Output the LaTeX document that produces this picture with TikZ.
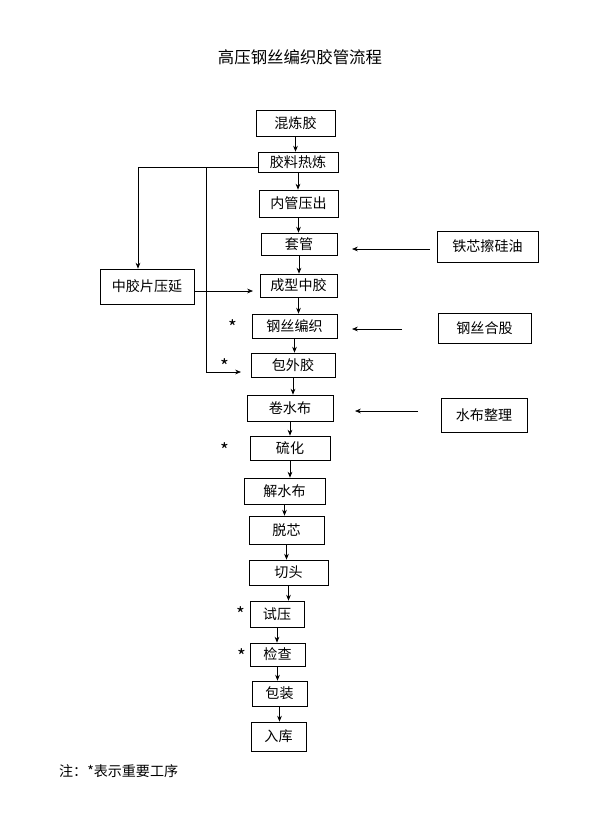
\documentclass[tikz,border=0pt]{standalone}
\usepackage{fontspec}
\setmainfont{Noto Sans CJK SC}
\usetikzlibrary{arrows.meta}

\begin{document}
\begin{tikzpicture}[x=0.03cm, y=-0.03cm,
  every node/.style={font=\fontsize{12}{14}\selectfont},
  box/.style={draw, line width=0.6pt, inner sep=0pt},
  flow/.style={draw, line width=0.6pt, -{Stealth[length=5pt,width=4pt]}},
  keymark/.style={font=\fontsize{16}{16}\selectfont}]
  \useasboundingbox (0,0) rectangle (600,830);

  % title
  \node (title) at (300,57) {\fontsize{14}{16}\selectfont 高压钢丝编织胶管流程};

  % main line
  \node[box, minimum width=2.37cm, minimum height=0.78cm] (hunlian) at (295.5,123) {混炼胶};
  \node[box, minimum width=2.4cm, minimum height=0.6cm] (relian) at (298,162) {胶料热炼};
  \node[box, minimum width=2.37cm, minimum height=0.81cm] (neiguan) at (298.5,203.5) {内管压出};
  \node[box, minimum width=2.28cm, minimum height=0.66cm] (taoguan) at (299,244) {套管};
  \node[box, minimum width=2.31cm, minimum height=0.69cm] (zhongjiao) at (298.5,285.5) {成型中胶};
  \node[box, minimum width=2.55cm, minimum height=0.72cm] (bianzhi) at (294.5,326) {钢丝编织};
  \node[box, minimum width=2.52cm, minimum height=0.72cm] (waijiao) at (293,365) {包外胶};
  \node[box, minimum width=2.58cm, minimum height=0.78cm] (juanshui) at (290,408) {卷水布};
  \node[box, minimum width=2.4cm, minimum height=0.72cm] (liuhua) at (290,448) {硫化};
  \node[box, minimum width=2.43cm, minimum height=0.78cm] (jieshui) at (284.5,491) {解水布};
  \node[box, minimum width=2.25cm, minimum height=0.84cm] (tuoxin) at (286.5,530) {脱芯};
  \node[box, minimum width=2.37cm, minimum height=0.75cm] (qietou) at (288.5,572.5) {切头};
  \node[box, minimum width=1.62cm, minimum height=0.78cm] (shiya) at (277,614) {试压};
  \node[box, minimum width=1.65cm, minimum height=0.69cm] (jiancha) at (277.5,654.5) {检查};
  \node[box, minimum width=1.65cm, minimum height=0.75cm] (baozhuang) at (279.5,693.5) {包装};
  \node[box, minimum width=1.65cm, minimum height=0.87cm] (ruku) at (278.5,736.5) {入库};

  % side boxes
  \node[box, minimum width=2.82cm, minimum height=1.05cm] (yayan) at (147,286.5) {中胶片压延};
  \node[box, minimum width=3.03cm, minimum height=0.93cm] (guiyou) at (487.5,246.5) {铁芯擦硅油};
  \node[box, minimum width=2.79cm, minimum height=0.9cm] (hegu) at (484.5,328) {钢丝合股};
  \node[box, minimum width=2.58cm, minimum height=1.02cm] (zhengli) at (484,415) {水布整理};

  % down arrows
  \foreach \a/\b in {hunlian/relian, relian/neiguan, neiguan/taoguan, taoguan/zhongjiao,
    zhongjiao/bianzhi, bianzhi/waijiao, waijiao/juanshui, juanshui/liuhua, liuhua/jieshui,
    jieshui/tuoxin, tuoxin/qietou, qietou/shiya, shiya/jiancha, jiancha/baozhuang, baozhuang/ruku}
    \draw[flow] (\a.south) -- (\a.south |- \b.north);

  % branches from relian
  \coordinate (split) at (206,167);
  \coordinate (corner) at (138,167);
  \coordinate (yayanin) at (253,291);
  \coordinate (waijiaoin) at (241,372);
  \draw[flow] (relian.west |- split) -- (corner) -- (corner |- yayan.north);
  \draw[flow] (split) -- (split |- waijiaoin) -- (waijiaoin);
  \draw[flow] (yayan.east |- yayanin) -- (yayanin);

  % side inputs
  \coordinate (guiyouend) at (352,249);
  \coordinate (guiyouout) at (430,249);
  \coordinate (heguend) at (352,329);
  \coordinate (heguout) at (402,329);
  \coordinate (zhengliend) at (355,411);
  \coordinate (zhengliout) at (418,411);
  \draw[flow] (guiyouout) -- (guiyouend);
  \draw[flow] (heguout) -- (heguend);
  \draw[flow] (zhengliout) -- (zhengliend);

  % key steps
  \node[keymark] (m1) at (233,327) {*};
  \node[keymark] (m2) at (225,366) {*};
  \node[keymark] (m3) at (225,450) {*};
  \node[keymark] (m4) at (241,614) {*};
  \node[keymark] (m5) at (242,656) {*};

  % note
  \node[anchor=west] (note) at (55,771) {注：*表示重要工序};
\end{tikzpicture}
\end{document}
